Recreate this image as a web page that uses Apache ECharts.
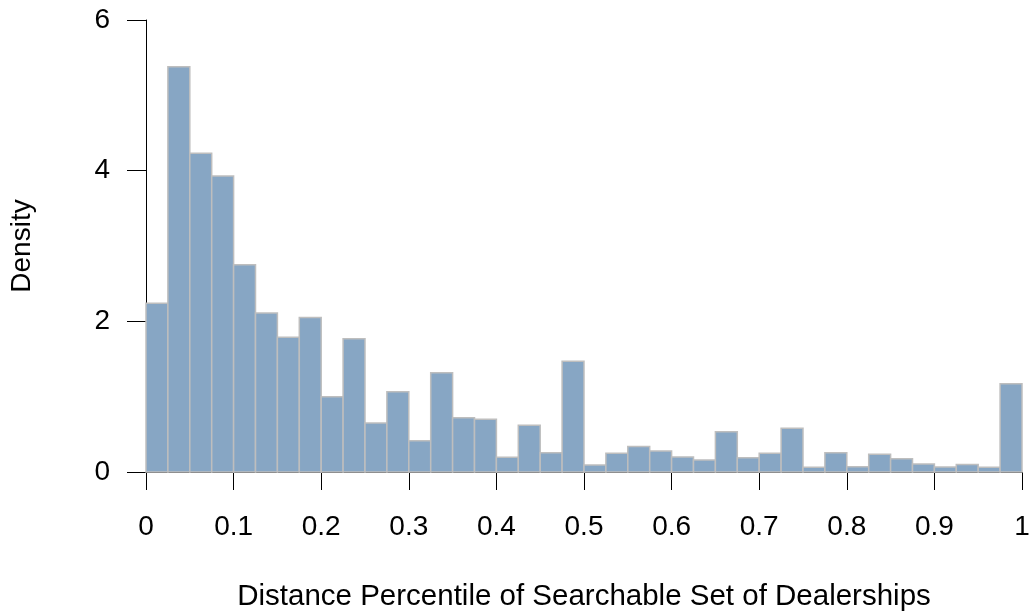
<!DOCTYPE html>
<html>
<head>
<meta charset="utf-8">
<script src="https://cdn.jsdelivr.net/npm/echarts@6/dist/echarts.min.js"></script>
<style>
  html, body { margin: 0; padding: 0; background: #ffffff; }
  #chart { width: 1032px; height: 616px; }
</style>
</head>
<body>
<div id="chart"></div>
<script>
// Histogram of distance percentiles (density scale), 40 bins of width 0.025
const binWidth = 0.025;
const densities = [
  2.24, 5.38, 4.23, 3.93, 2.75, 2.11, 1.79, 2.05, 1.00, 1.77,
  0.65, 1.065, 0.415, 1.317, 0.72, 0.70, 0.195, 0.62, 0.256, 1.47,
  0.093, 0.248, 0.34, 0.28, 0.20, 0.16, 0.535, 0.19, 0.248, 0.58,
  0.064, 0.256, 0.07, 0.235, 0.177, 0.106, 0.066, 0.10, 0.062, 1.17
];
const xTicks = [0, 0.1, 0.2, 0.3, 0.4, 0.5, 0.6, 0.7, 0.8, 0.9, 1];
const yTicks = [0, 2, 4, 6];
const xTitle = 'Distance Percentile of Searchable Set of Dealerships';
const yTitle = 'Density';

const bins = densities.map((d, i) => [i * binWidth, (i + 1) * binWidth, d]);

const font = '"Liberation Sans", Arial, sans-serif';
const fontSize = 28;
const chart = echarts.init(document.getElementById('chart'), null, { renderer: 'canvas' });

chart.setOption({
  backgroundColor: '#ffffff',
  animation: false,
  grid: {
    left: 146, right: 10, top: 20, bottom: 144,
    containLabel: false,
    outerBoundsMode: 'none'
  },
  xAxis: {
    type: 'value',
    min: xTicks[0],
    max: xTicks[xTicks.length - 1],
    interval: 0.1,
    splitLine: { show: false },
    axisLine: { show: true, onZero: false, lineStyle: { color: '#000', width: 1 } },
    axisTick: { show: true, length: 18, lineStyle: { color: '#000', width: 1 } },
    axisLabel: {
      margin: 41, color: '#000', fontSize: fontSize, fontFamily: font,
      formatter: v => String(+v.toFixed(1))
    },
    name: xTitle,
    nameLocation: 'middle',
    nameGap: 110,
    nameTextStyle: { color: '#000', fontSize: 29.5, fontFamily: font }
  },
  yAxis: {
    type: 'value',
    min: yTicks[0],
    max: yTicks[yTicks.length - 1],
    interval: 2,
    splitLine: { show: false },
    axisLine: { show: true, lineStyle: { color: '#000', width: 1 } },
    axisTick: { show: true, length: 19, lineStyle: { color: '#000', width: 1 } },
    axisLabel: { margin: 36, color: '#000', fontSize: fontSize, fontFamily: font },
    name: yTitle,
    nameLocation: 'middle',
    nameGap: 110,
    nameRotate: 90,
    nameTextStyle: { color: '#000', fontSize: fontSize, fontFamily: font }
  },
  series: [{
    type: 'custom',
    data: bins,
    z: 1,
    renderItem: function (params, api) {
      const topLeft = api.coord([api.value(0), api.value(2)]);
      const bottomRight = api.coord([api.value(1), 0]);
      return {
        type: 'rect',
        shape: {
          x: topLeft[0],
          y: topLeft[1],
          width: bottomRight[0] - topLeft[0],
          height: bottomRight[1] - topLeft[1]
        },
        style: { fill: '#87a6c4', stroke: '#bebebe', lineWidth: 1.5 }
      };
    }
  }]
});
</script>
</body>
</html>
